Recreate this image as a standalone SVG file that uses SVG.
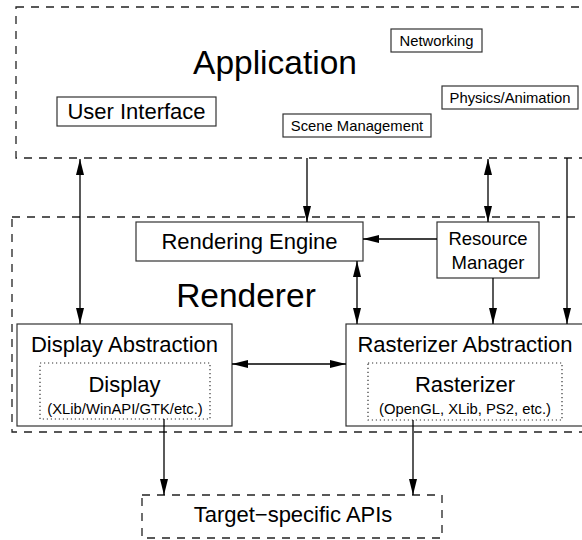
<svg xmlns="http://www.w3.org/2000/svg" width="582" height="540" viewBox="0 0 582 540">
  <style>
    text { font-family: "Liberation Sans", Arial, sans-serif; fill: #000; text-anchor: middle; }
    .big { font-size: 33.5px; }
    .mid { font-size: 22px; }
    .rm { font-size: 18.5px; }
    .small { font-size: 14.8px; }
    .box { fill: #fff; stroke: #333; stroke-width: 1.2; }
    .dashed { fill: none; stroke: #222; stroke-width: 1.3; stroke-dasharray: 8 7; }
    .dotted { fill: none; stroke: #333; stroke-width: 1.2; stroke-dasharray: 1.2 2.8; }
    .conn { fill: none; stroke: #000; stroke-width: 1.3; }
  </style>
  <defs>
    <marker id="arrow" viewBox="0 0 16 8" refX="16" refY="4" markerWidth="16" markerHeight="8" markerUnits="userSpaceOnUse" orient="auto-start-reverse">
      <path d="M0,0 L16,4 L0,8 Z" fill="#000"/>
    </marker>
  </defs>
  <rect width="582" height="540" fill="#fff"/>

  <!-- Application layer -->
  <g id="application">
    <rect class="dashed" x="16" y="7" width="600" height="151"/>
    <text class="big" x="275" y="74">Application</text>
  </g>
  <g id="user-interface">
    <rect class="box" x="57" y="97" width="159" height="29"/>
    <text class="mid" x="136.5" y="119">User Interface</text>
  </g>
  <g id="networking">
    <rect class="box" x="391" y="29" width="91" height="23"/>
    <text class="small" x="436.5" y="46">Networking</text>
  </g>
  <g id="physics-animation">
    <rect class="box" x="442" y="86" width="136" height="23"/>
    <text class="small" x="510" y="103">Physics/Animation</text>
  </g>
  <g id="scene-management">
    <rect class="box" x="283" y="114" width="148" height="23"/>
    <text class="small" x="357" y="131">Scene Management</text>
  </g>

  <!-- Renderer layer -->
  <g id="renderer">
    <rect class="dashed" x="12" y="217" width="600" height="215"/>
    <text class="big" x="246" y="307">Renderer</text>
  </g>
  <g id="rendering-engine">
    <rect class="box" x="136" y="222" width="227" height="39"/>
    <text class="mid" x="249.5" y="249">Rendering Engine</text>
  </g>
  <g id="resource-manager">
    <rect class="box" x="437" y="222" width="102" height="56"/>
    <text class="rm" x="488" y="245">Resource</text>
    <text class="rm" x="488" y="269">Manager</text>
  </g>
  <g id="display-abstraction">
    <rect class="box" x="17" y="324" width="215" height="102"/>
    <text class="mid" x="124.5" y="352">Display Abstraction</text>
    <rect class="dotted" x="40" y="363" width="170" height="56"/>
    <text class="mid" x="124.5" y="392">Display</text>
    <text class="small" x="125" y="414">(XLib/WinAPI/GTK/etc.)</text>
  </g>
  <g id="rasterizer-abstraction">
    <rect class="box" x="346" y="324" width="260" height="102"/>
    <text class="mid" x="465" y="352">Rasterizer Abstraction</text>
    <rect class="dotted" x="368" y="363" width="194" height="57"/>
    <text class="mid" x="465" y="392">Rasterizer</text>
    <text class="small" x="465" y="414">(OpenGL, XLib, PS2, etc.)</text>
  </g>

  <!-- Platform layer -->
  <g id="target-apis">
    <rect class="dashed" x="142" y="495" width="300" height="43"/>
    <text class="mid" x="293" y="522">Target−specific APIs</text>
  </g>

  <!-- Connectors -->
  <g id="connectors">
    <line class="conn" x1="80" y1="159" x2="80" y2="324" marker-start="url(#arrow)" marker-end="url(#arrow)"/>
    <line class="conn" x1="307" y1="158" x2="307" y2="222" marker-end="url(#arrow)"/>
    <line class="conn" x1="488" y1="159" x2="488" y2="222" marker-start="url(#arrow)" marker-end="url(#arrow)"/>
    <line class="conn" x1="567" y1="158" x2="567" y2="324" marker-end="url(#arrow)"/>
    <line class="conn" x1="437" y1="239" x2="363" y2="239" marker-end="url(#arrow)"/>
    <line class="conn" x1="357" y1="261" x2="357" y2="324" marker-start="url(#arrow)" marker-end="url(#arrow)"/>
    <line class="conn" x1="493" y1="278" x2="493" y2="324" marker-end="url(#arrow)"/>
    <line class="conn" x1="232" y1="364" x2="346" y2="364" marker-start="url(#arrow)" marker-end="url(#arrow)"/>
    <line class="conn" x1="164" y1="419" x2="164" y2="495" marker-end="url(#arrow)"/>
    <line class="conn" x1="413" y1="420" x2="413" y2="495" marker-end="url(#arrow)"/>
  </g>
</svg>
